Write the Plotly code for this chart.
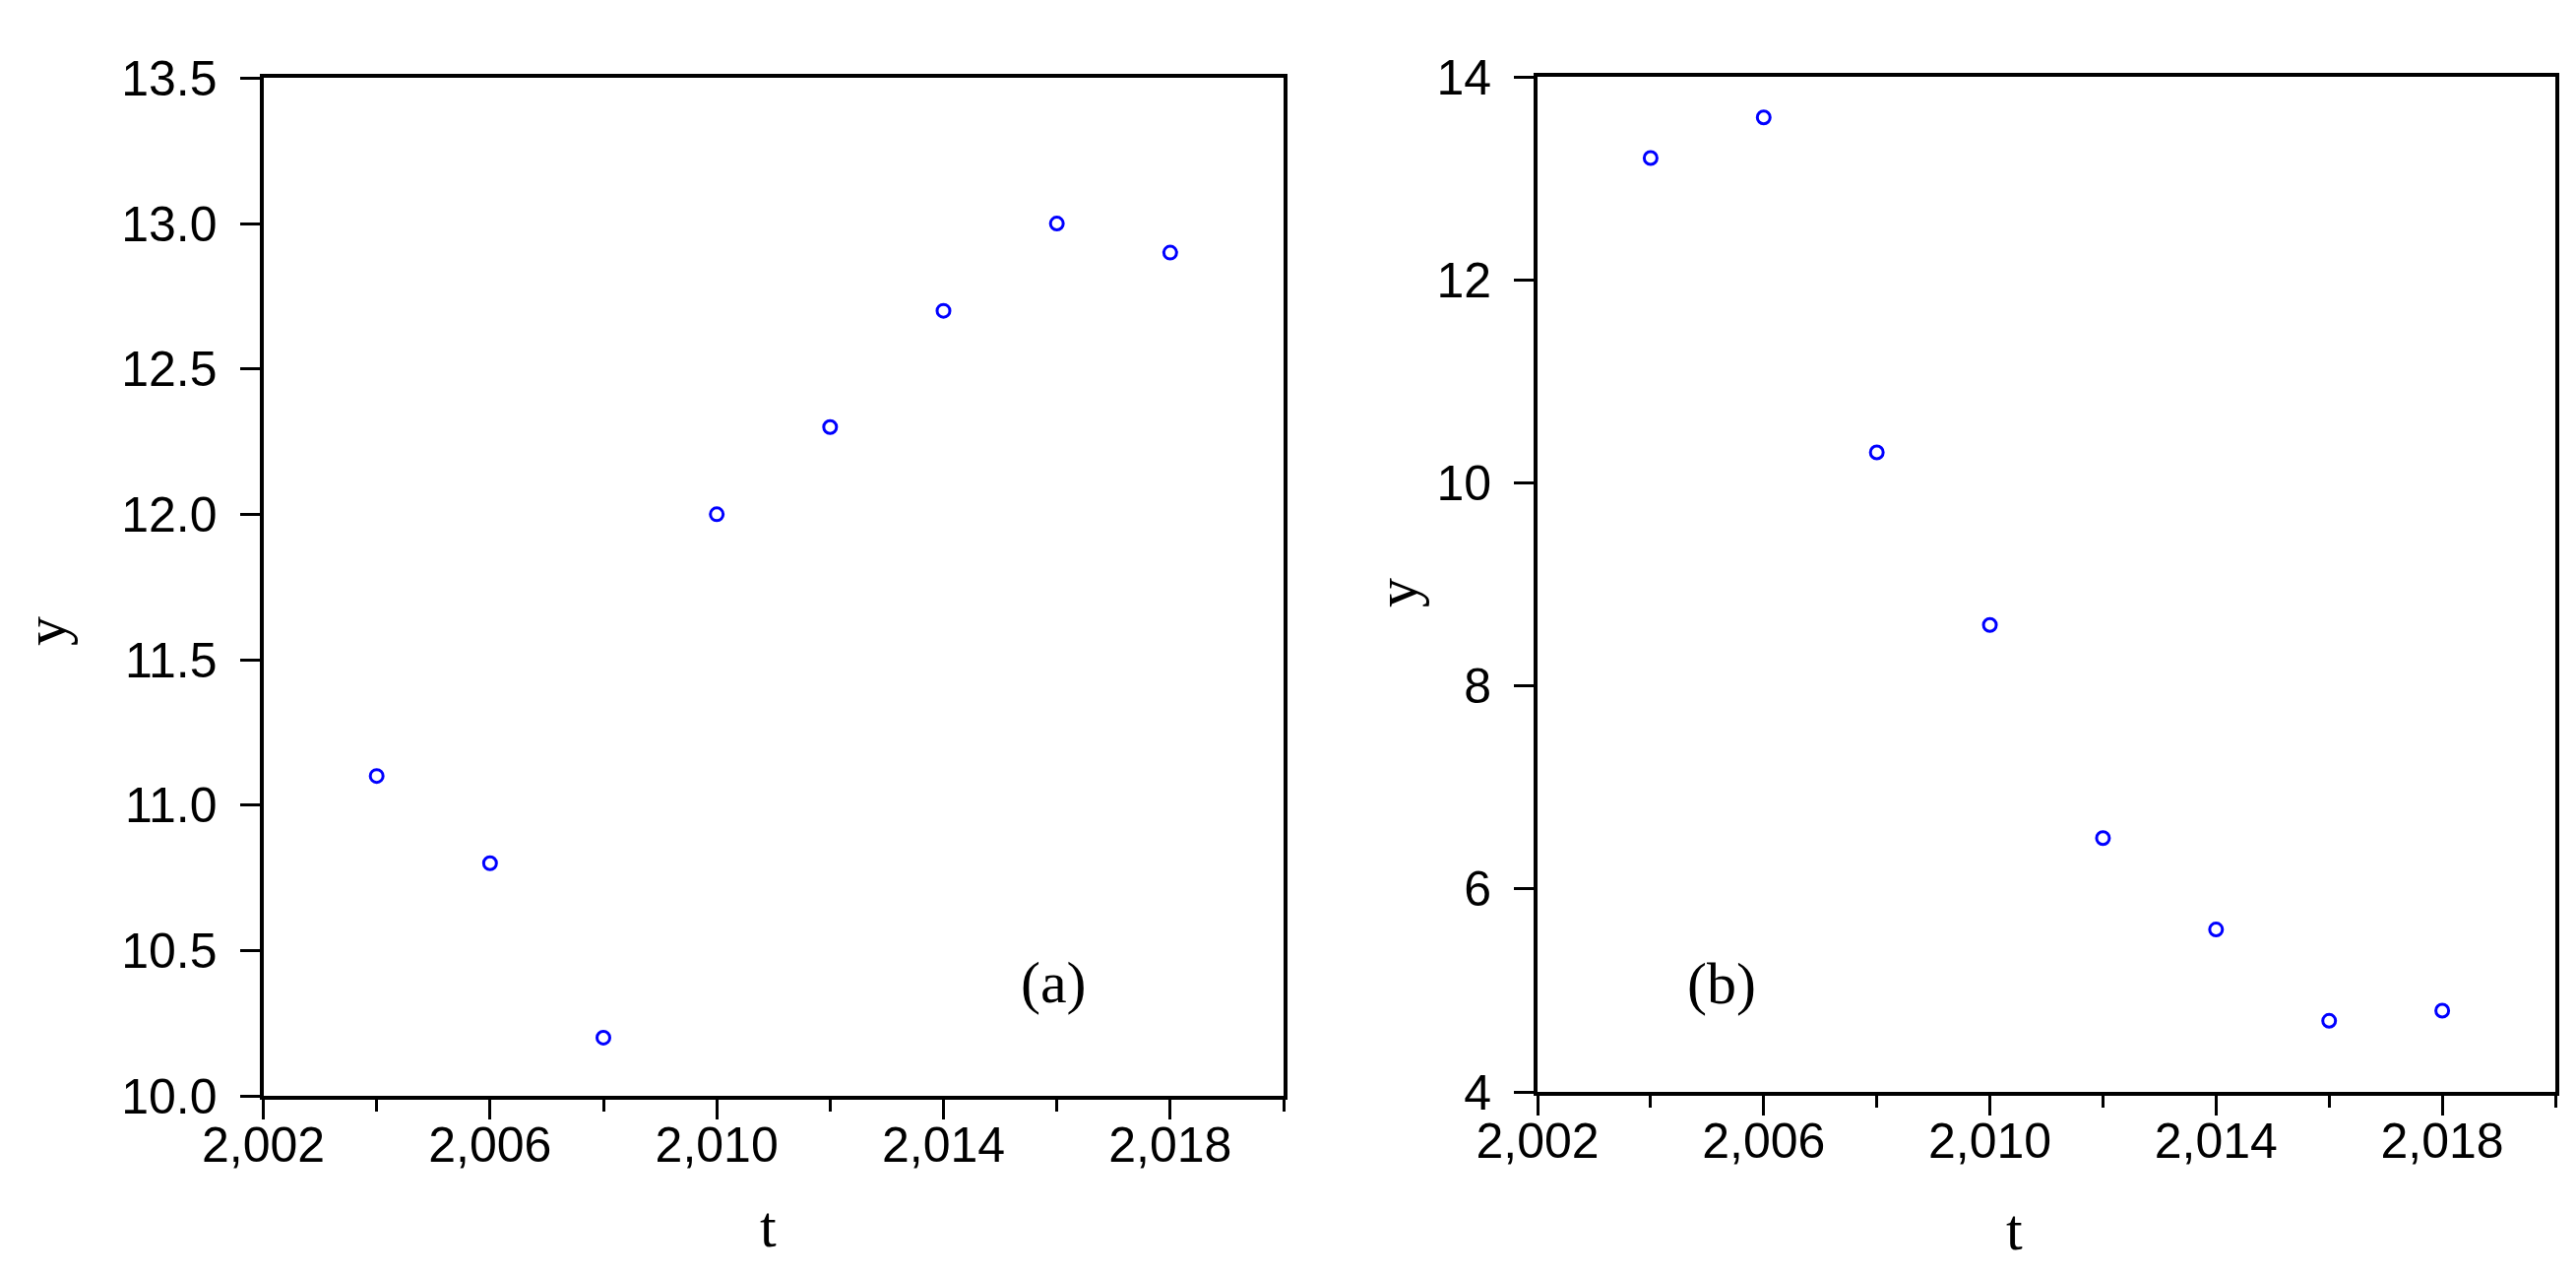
import plotly.graph_objects as go

# ---- data ----
years = [2004, 2006, 2008, 2010, 2012, 2014, 2016, 2018]
y_a = [11.1, 10.8, 10.2, 12.0, 12.3, 12.7, 13.0, 12.9]
y_b = [13.2, 13.6, 10.3, 8.6, 6.5, 5.6, 4.7, 4.8]
panel_labels = ["(a)", "(b)"]
label_pos_a = (2015.95, 10.39)
label_pos_b = (2005.26, 5.07)

W, H = 2617, 1296
tick_font = dict(family="Liberation Sans Narrow, Arial Narrow, Liberation Sans, sans-serif", size=50, color="black")
title_font = dict(family="Liberation Serif, Times New Roman, serif", size=60, color="black")
marker = dict(symbol="circle-open", size=13, color="#0000FF", line=dict(width=3, color="#0000FF"))

fig = go.Figure()
fig.add_trace(go.Scatter(x=years, y=y_a, mode="markers", marker=marker, xaxis="x", yaxis="y", showlegend=False))
fig.add_trace(go.Scatter(x=years, y=y_b, mode="markers", marker=marker, xaxis="x2", yaxis="y2", showlegend=False))

def px_dom(a, b, total):
    return [a / total, b / total]

xcommon = dict(
    range=[2002, 2020], tick0=2002, dtick=4, tickformat=",d",
    ticks="outside", ticklen=20, tickwidth=3, tickcolor="black",
    minor=dict(dtick=2, tick0=2002, ticks="outside", ticklen=12, tickwidth=3, tickcolor="black", showgrid=False),
    showline=True, linewidth=4, linecolor="black", mirror=True,
    showgrid=False, zeroline=False, tickfont=tick_font, fixedrange=True, automargin=False,
    ticklabelstandoff=-17,
)
ycommon = dict(
    ticks="outside", ticklen=20, tickwidth=3, tickcolor="black",
    showline=True, linewidth=4, linecolor="black", mirror=True,
    showgrid=False, zeroline=False, tickfont=tick_font, fixedrange=True, automargin=False,
    ticklabelstandoff=13,
)

fig.update_layout(
    width=W, height=H,
    margin=dict(l=0, r=0, t=0, b=0, pad=0, autoexpand=False),
    paper_bgcolor="white", plot_bgcolor="white",
    separators=".,",
    xaxis=dict(domain=px_dom(259.5, 1296, W), anchor="y", **xcommon),
    yaxis=dict(domain=[1 - 1105 / H, 1 - 71.4 / H], anchor="x", range=[10, 13.5], dtick=0.5, tick0=10,
               tickformat=".1f", **ycommon),
    xaxis2=dict(domain=px_dom(1554, 2588, W), anchor="y2", **xcommon),
    yaxis2=dict(domain=[1 - 1101 / H, 1 - 70 / H], anchor="x2", range=[4, 14], dtick=2, tick0=4,
                tickformat="d", **ycommon),
)

ann = []
# axis titles
ann.append(dict(text="y", x=38 / W, y=1 - 633 / H, xref="paper", yref="paper", showarrow=False,
                textangle=-90, font=title_font, xanchor="center", yanchor="middle"))
ann.append(dict(text="y", x=1411 / W, y=1 - 594 / H, xref="paper", yref="paper", showarrow=False,
                textangle=-90, font=title_font, xanchor="center", yanchor="middle"))
ann.append(dict(text="t", x=772 / W, y=1 - 1238 / H, xref="paper", yref="paper", showarrow=False,
                font=title_font, xanchor="center", yanchor="middle"))
ann.append(dict(text="t", x=2038 / W, y=1 - 1241 / H, xref="paper", yref="paper", showarrow=False,
                font=title_font, xanchor="center", yanchor="middle"))
# panel labels
ann.append(dict(text=panel_labels[0], x=label_pos_a[0], y=label_pos_a[1], xref="x", yref="y", showarrow=False,
                font=title_font, xanchor="center", yanchor="middle"))
ann.append(dict(text=panel_labels[1], x=label_pos_b[0], y=label_pos_b[1], xref="x2", yref="y2", showarrow=False,
                font=title_font, xanchor="center", yanchor="middle"))
fig.update_layout(annotations=ann)

fig.write_html("out.html")
